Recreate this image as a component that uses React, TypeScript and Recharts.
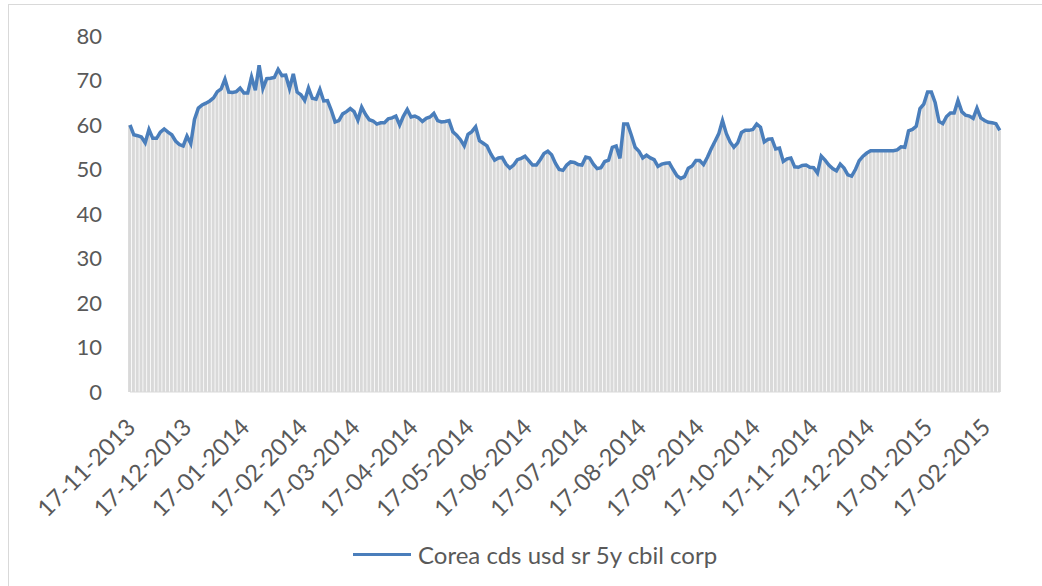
import React from "react";
import { ComposedChart, Bar, Line, XAxis, YAxis, Legend } from "recharts";

// Corea cds usd sr 5y cbil corp, one value every ~2 days
// from 17-11-2013 to late Feb 2015
const SERIES_NAME = "Corea cds usd sr 5y cbil corp";
const STEP_DAYS = 2.03;

const cdsValues = [
  60.0, 57.8, 57.6, 57.3, 56.0, 59.0, 57.0, 57.0, 58.4, 59.1,
  58.4, 57.8, 56.4, 55.6, 55.3, 57.5, 55.8, 61.3, 63.8, 64.5,
  64.9, 65.4, 66.1, 67.5, 68.1, 70.3, 67.4, 67.3, 67.5, 68.3,
  67.2, 67.2, 70.8, 67.8, 73.4, 68.2, 70.4, 70.5, 70.7, 72.5,
  71.1, 71.2, 68.2, 71.5, 67.4, 66.8, 65.5, 68.3, 66.0, 65.8,
  68.0, 65.4, 65.5, 63.3, 60.7, 61.0, 62.5, 63.0, 63.7, 63.0,
  61.1, 64.0, 62.4, 61.2, 60.9, 60.2, 60.5, 60.5, 61.4, 61.6,
  62.0, 60.0, 62.0, 63.5, 61.8, 62.0, 61.6, 60.8, 61.5, 61.8,
  62.6, 61.0, 60.7, 60.8, 61.0, 58.5, 57.7, 56.7, 55.3, 57.9,
  58.5, 59.6, 56.5, 55.9, 55.3, 53.5, 52.1, 52.6, 52.7, 51.2,
  50.3, 51.0, 52.2, 52.5, 53.0, 52.0, 51.0, 51.0, 52.2, 53.6,
  54.1, 53.3, 51.4, 50.0, 49.8, 51.0, 51.7, 51.6, 51.1, 51.0,
  52.8, 52.6, 51.2, 50.2, 50.4, 51.8, 52.1, 55.0, 55.3, 52.5,
  60.2, 60.2, 57.7, 55.0, 54.1, 52.6, 53.2, 52.6, 52.2, 50.7,
  51.2, 51.4, 51.5, 50.0, 48.6, 48.0, 48.4, 50.3, 50.8, 52.0,
  52.0, 51.1, 52.7, 54.6, 56.3, 58.0, 61.0, 58.1, 56.2, 55.0,
  56.0, 58.3, 58.8, 58.8, 59.0, 60.2, 59.5, 56.2, 56.8, 56.9,
  54.6, 54.8, 51.8, 52.4, 52.6, 50.6, 50.5, 50.9, 51.0, 50.5,
  50.4, 49.2, 53.0, 52.1, 51.0, 50.2, 49.7, 51.2, 50.3, 48.8,
  48.5, 50.0, 52.0, 53.0, 53.7, 54.2, 54.2, 54.2, 54.2, 54.2,
  54.2, 54.2, 54.4, 55.1, 55.0, 58.7, 59.0, 59.7, 63.7, 64.7,
  67.4, 67.4, 65.0, 60.8, 60.3, 61.9, 62.7, 62.7, 65.5, 63.0,
  62.2, 62.0, 61.5, 63.8, 61.6, 61.0, 60.6, 60.5, 60.3, 58.8,
];

// days after 17-11-2013 for each monthly tick
const tickDays = [0, 30, 61, 92, 120, 151, 181, 212, 242, 273, 304, 334, 365, 395, 426, 457];
const tickLabels = [
  "17-11-2013", "17-12-2013", "17-01-2014", "17-02-2014", "17-03-2014",
  "17-04-2014", "17-05-2014", "17-06-2014", "17-07-2014", "17-08-2014",
  "17-09-2014", "17-10-2014", "17-11-2014", "17-12-2014", "17-01-2015",
  "17-02-2015",
];
const yTicks = [0, 10, 20, 30, 40, 50, 60, 70, 80];

const data = cdsValues.map((v, i) => ({ day: i * STEP_DAYS, cds: v }));

const FONT = "Lato, 'Open Sans', sans-serif";
const TEXT = "#595959";
const BLUE = "#4a7ebb";

const DateTick = (props: any) => {
  const { x, y, payload } = props;
  const idx = tickDays.indexOf(payload.value);
  const ax = x + 1;
  const ay = y + 25;
  return (
    <text
      x={ax}
      y={ay}
      dy="0.35em"
      textAnchor="end"
      transform={`rotate(-45, ${ax}, ${ay})`}
      fill={TEXT}
      fontSize={23.5}
      fontFamily={FONT}
    >
      {idx >= 0 ? tickLabels[idx] : ""}
    </text>
  );
};

const renderLegend = () => (
  <div
    style={{
      display: "flex",
      alignItems: "center",
      height: 40,
      paddingLeft: 353,
      fontFamily: FONT,
      fontSize: 24,
      color: TEXT,
    }}
  >
    <span style={{ display: "inline-block", width: 58, height: 3, background: BLUE, marginRight: 7 }} />
    <span>{SERIES_NAME}</span>
  </div>
);

export default function App() {
  return (
    <div
      style={{
        position: "fixed",
        left: 0,
        top: 0,
        width: 1042,
        height: 586,
        overflow: "hidden",
        background: "#fff",
      }}
    >
      <div
        style={{
          position: "absolute",
          left: 8,
          top: 4,
          width: 1100,
          height: 700,
          border: "1px solid #d9d9d9",
        }}
      />
      <div style={{ position: "absolute", left: 0, top: 0 }}>
        <ComposedChart
          width={1042}
          height={586}
          data={data}
          margin={{ top: 36, right: 42, left: 0, bottom: 12 }}
        >
          <XAxis
            dataKey="day"
            type="number"
            domain={[0, 465]}
            ticks={tickDays}
            interval={0}
            tick={<DateTick />}
            tickLine={false}
            tickMargin={0}
            axisLine={{ stroke: "#d9d9d9" }}
            height={142}
          />
          <YAxis
            domain={[0, 80]}
            ticks={yTicks}
            interval={0}
            width={130}
            axisLine={false}
            tickLine={false}
            tickMargin={22}
            tick={{ fill: TEXT, fontSize: 22, fontFamily: FONT }}
          />
          <Legend verticalAlign="bottom" height={40} content={renderLegend} />
          <Bar dataKey="cds" fill="#d9d9d9" barSize={3} isAnimationActive={false} legendType="none" />
          <Line
            dataKey="cds"
            name={SERIES_NAME}
            type="linear"
            stroke={BLUE}
            strokeWidth={3.5}
            dot={false}
            activeDot={false}
            isAnimationActive={false}
          />
        </ComposedChart>
      </div>
    </div>
  );
}
